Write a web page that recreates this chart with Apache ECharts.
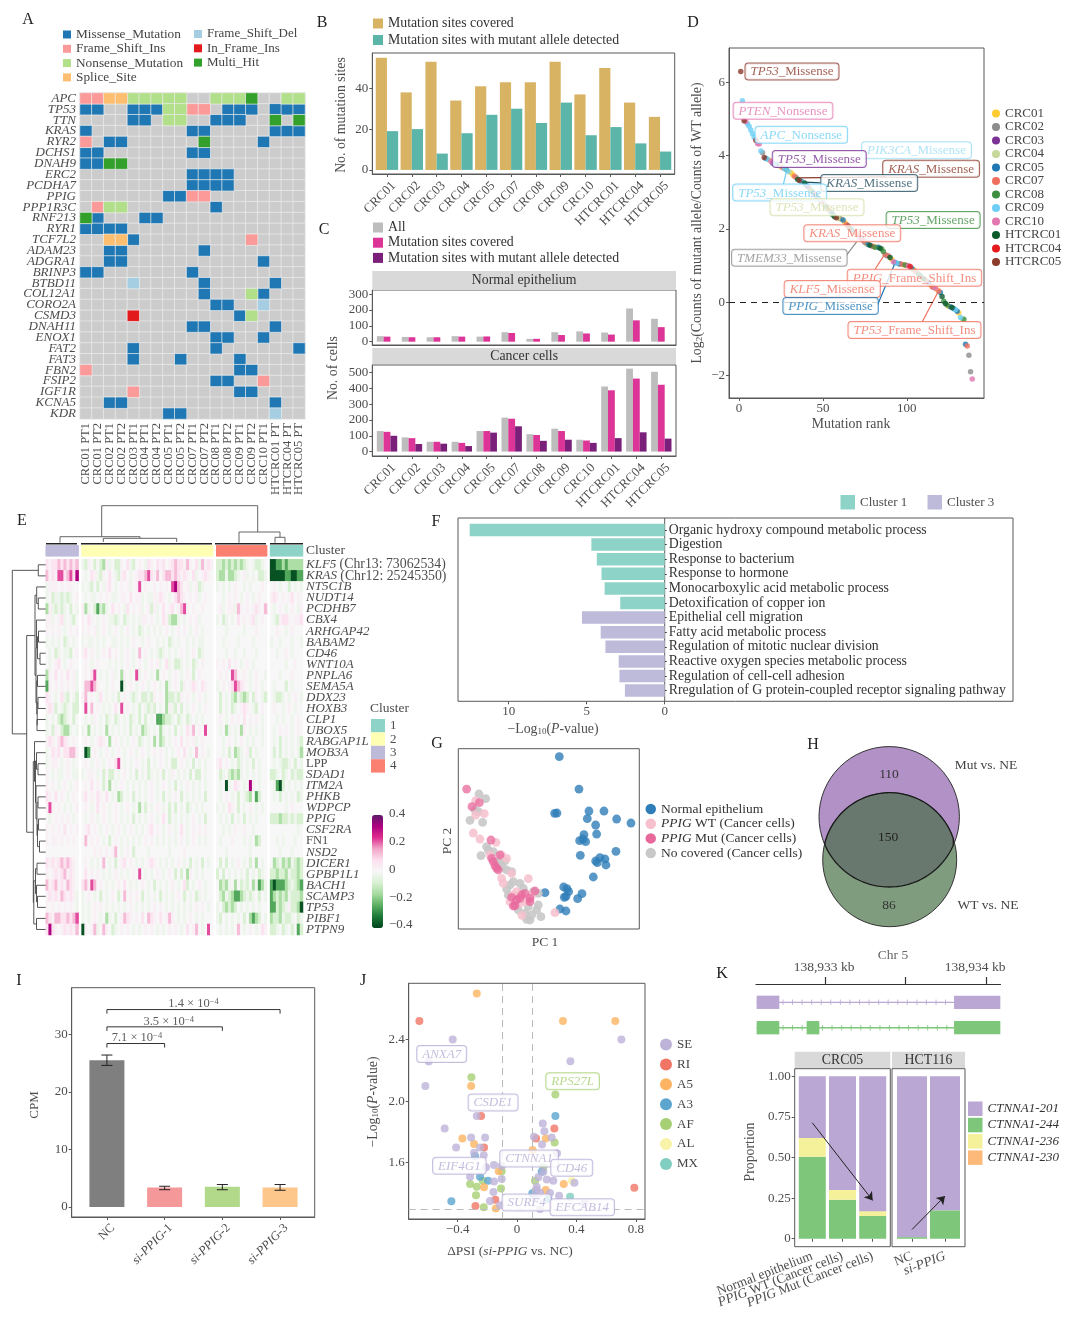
<!DOCTYPE html>
<html><head><meta charset="utf-8">
<style>html,body{margin:0;padding:0;background:#fff}#c{width:1080px;height:1328px}</style>
<script src="https://cdn.jsdelivr.net/npm/echarts@6/dist/echarts.min.js"></script>
</head><body><div id="c"></div>
<script>
// ---------- Panel A ----------
const genesA=['APC','TP53','TTN','KRAS','RYR2','DCHS1','DNAH9','ERC2','PCDHA7','PPIG','PPP1R3C','RNF213','RYR1','TCF7L2','ADAM23','ADGRA1','BRINP3','BTBD11','COL12A1','CORO2A','CSMD3','DNAH11','ENOX1','FAT2','FAT3','FBN2','FSIP2','IGF1R','KCNA5','KDR'];
const samplesA=['CRC01 PT1','CRC01 PT2','CRC02 PT1','CRC02 PT2','CRC03 PT1','CRC04 PT1','CRC04 PT2','CRC05 PT1','CRC05 PT2','CRC07 PT1','CRC07 PT2','CRC08 PT1','CRC08 PT2','CRC09 PT1','CRC09 PT2','CRC10 PT1','HTCRC01 PT','HTCRC04 PT','HTCRC05 PT'];
const mutRows=['FFSSNNNNN..NNNH..NN','MM..MMMNNFF.MMM.MMM','....MM.NN..MMM..H.H','M........MM.....MMM','F.MM......H....M...','MM.......MM........','MMHH...............','.........MMMM......','.........MMMM......','.......MMFF........','.FNN.......M.......','HM...MM............','MMMM...............','..SSM.........F....','..MM......M........','..MM...........M...','MM.......M.........','....D.....M.....M..','..........M...NM...','...........MM..D...','....I........MN....','.........MM.....M..','...........MM..M...','....M......M......M','....M...M....M.....','F............MM....','...........MM..F...','....F........MM....','..MM............M..','.......MM.......D..'];
const mutTypes=[['M','Missense_Mutation','#1F78B4'],['F','Frame_Shift_Ins','#FB9A99'],['N','Nonsense_Mutation','#B2DF8A'],['S','Splice_Site','#FDBF6F'],['D','Frame_Shift_Del','#A6CEE3'],['I','In_Frame_Ins','#E31A1C'],['H','Multi_Hit','#33A02C']];
// ---------- Panels B, C ----------
const patients=['CRC01','CRC02','CRC03','CRC04','CRC05','CRC07','CRC08','CRC09','CRC10','HTCRC01','HTCRC04','HTCRC05'];
const sitesCovered=[55,38,53,34,41,43,43,53,37,50,33,26];
const sitesDetected=[19,20,8,18,27,30,23,33,17,21,13,9];
const normalAll=[35,30,28,35,32,60,18,60,65,58,210,145];
const normalCovered=[32,28,28,32,33,55,18,42,52,45,135,92];
const normalDetected=[0,0,0,0,0,0,0,0,0,0,0,0];
const cancerAll=[130,90,62,62,130,215,110,145,75,412,525,505];
const cancerCovered=[125,85,62,55,130,208,105,130,70,388,462,423];
const cancerDetected=[100,48,50,35,120,160,68,75,55,85,122,82];
// ---------- Panel D: [rank, log2 ratio, sample index] ----------
const sampleColors=['#FFCC33','#8C8C8C','#7B3294','#C7D99A','#1F78B4','#F0705F','#3E8E41','#6ECFF6','#E377B0','#0B5A2B','#E41A1C','#8B3A2B'];
const rankPoints=[[1,6.3,11],[2,5.5,7],[3,4.95,11],[4,4.93,8],[5,4.87,7],[6,4.8,7],[7,4.7,7],[8,4.6,7],[9,4.5,7],[10,4.42,11],[11,4.33,8],[12,4.32,8],[13,4.13,7],[14,4.08,1],[15,3.95,11],[16,3.92,4],[17,3.9,7],[18,3.88,0],[19,3.85,8],[20,3.8,2],[21,3.78,7],[22,3.76,4],[23,3.74,1],[24,3.72,3],[25,3.7,0],[26,3.67,5],[27,3.65,7],[28,3.63,6],[29,3.58,7],[30,3.55,3],[31,3.53,0],[32,3.48,0],[33,3.44,5],[34,3.4,1],[35,3.35,9],[36,3.32,11],[37,3.3,4],[38,3.27,7],[39,3.25,9],[40,3.2,4],[41,3.15,2],[42,3.1,0],[43,3.05,6],[44,3,1],[45,2.95,5],[46,2.9,4],[47,2.85,0],[48,2.8,7],[49,2.75,8],[50,2.7,3],[51,2.65,1],[52,2.6,6],[53,2.55,5],[54,2.5,0],[55,2.45,4],[56,2.38,9],[57,2.33,9],[58,2.3,11],[59,2.29,3],[60,2.28,1],[61,2.26,0],[62,2.24,4],[63,2.18,0],[64,2.12,5],[65,2.08,11],[66,2.03,6],[67,1.98,4],[68,1.94,0],[69,1.9,1],[70,1.86,5],[71,1.82,3],[72,1.77,8],[73,1.72,4],[74,1.68,5],[75,1.63,1],[76,1.6,0],[77,1.57,4],[78,1.55,9],[79,1.53,1],[80,1.52,5],[81,1.5,6],[82,1.5,3],[83,1.5,4],[84,1.47,9],[85,1.45,6],[86,1.38,6],[87,1.3,5],[88,1.27,4],[89,1.26,5],[90,1.22,9],[91,1.17,0],[92,1.1,8],[93,1.08,4],[94,1.06,7],[95,1.05,1],[96,1.04,4],[97,1.03,5],[98,1.02,0],[99,1.01,6],[100,1,5],[101,.99,8],[102,.97,10],[103,.92,4],[104,.88,0],[105,.84,5],[106,.8,1],[107,.76,6],[108,.72,4],[109,.68,0],[110,.64,9],[111,.6,5],[112,.56,1],[113,.52,4],[114,.47,0],[115,.42,5],[116,.4,1],[117,.38,8],[118,.34,0],[119,.3,5],[120,.26,4],[121,.15,9],[122,.02,6],[123,-.04,9],[124,-.08,6],[125,-.12,0],[126,-.13,4],[127,-.15,9],[128,-.18,4],[129,-.2,7],[130,-.25,4],[131,-.3,0],[132,-.42,7],[133,-.46,3],[134,-.47,6],[135,-1.15,4],[136,-1.2,5],[137,-1.45,1],[138,-1.9,1],[139,-2.1,8]];
// ---------- Panel E ----------
const genesE=['KLF5 (Chr13: 73062534)','KRAS (Chr12: 25245350)','NT5C1B','NUDT14','PCDHB7','CBX4','ARHGAP42','BABAM2','CD46','WNT10A','PNPLA6','SEMA5A','DDX23','HOXB3','CLP1','UBOX5','RABGAP1L','MOB3A','LPP','SDAD1','ITM2A','PHKB','WDPCP','PPIG','CSF2RA','FN1','NSD2','DICER1','GPBP1L1','BACH1','SCAMP3','TP53','PIBF1','PTPN9'];
const splicingLevels={A:-.38,B:-.25,C:-.15,D:-.08,e:-.025,'.':0,f:.025,G:.07,H:.13,I:.22,J:.32};
const splicingRows=[
"GfGGHGHGHGH|eDf.D.DCfe.DDf.GeD.f.eGf.GfG.fGHGGfHf.GeHfGfe|DDCDCDCDCDe.eDDe.|AABBCBCCCCC",
"HfGfIIGHIGJ|.e.GfeDf.G.eDfG.e.fGGHIGfH.GHHGHGfGf.Ge.fGf|DCCeCCDe.fe.e.DDe|AAAAABBAABB",
"efff.f.ff..|e.eD.D.efG.e.f.fe.fI.f..f.f.f.IJHG.fe.fDe.|e.e.e.f..e.e...f.|.f.e..D.e.e",
"e.DeeDeDe.f|.e.ee.f.f.ee.ff.G.ffe.eeffGf.e.GHGf.f.fe.f.|..e.f.f.e.f.e.f..|fGf.f.fG.f.",
"CfeDeDe.D.e|fCe.DBDCe.G.f.eG.f.fe.fDfe.G.fG.fHIf.f..f|.fe.ffeHf.f.fGf.H|.e.f.e.f.ef",
"ffe.fGe.eD.|f.Gf.e.f.eeDe.De.e.eff.f.e.GfDCCe.e.f.fe.|e.De.e.G.f.fGe.f.|.eDfGGf.ffG",
"f.f.f.e.f.f|f.f.fe.f.e.f.e.f.e.De.e.e.e.f.e.f.f.e.f.e|...e.....e...f...|..f..e.f...",
"e.e.e.De.e.|e.ee.e.e..ee.e.e.f..e.f..e.e.De.e..e.e.ee|..e....e....e....|e..e...e..e",
".e.De.eeD.f|fG.f.e.f.G.f.e.f.e.H.f.e.eDe.e.e.f.e.f.De|...e..e..e...e...|..e..f.e...",
".e.fG.e.f..|.f.e.f...e.e.e.f.e.f.e.f.fe.Ge.DDe.e.De.f|f.f.G.f.e.f.e....|.....e..f..",
"Cf.G.f.G.fe|.f.GI.e.e.fe.Cf.e.Ie.f.e.C.f.e.f.e.f.D.f.|.f.f.IHf.f.e.f..e|...e...f...",
"Bf.f.f.f.fe|.HHIHf..e.f..Ae.f.e.f.e.f.e.Ce.f.Df.fGf.Gf|e.f.fGIHGf.e.f.e.|.e...D.e...",
"Gf.e.GeD.eD|fH.f.eG.e.e.D.f.eDe.DDeDf.f.CDDeDf.f.e.f.e|.D.e.DCeDCD.Df.eD|.eDDe.e.f.e",
"fGfD.eDe.DD|.I.H.f.e.e.G.I.f.e.D.eDeD.e.CfeD.D.e.f.e.f|.D.e.De.fGf.eD.f.|.f..e.f.e..",
"e.e.DCDe.D.|.e.ef.e.De.De.e.De.D.D.e.BBCDDe.De.De.e.e.|.f.e.f.f.G.f.f.e.|..e.e..e.f.",
"e.Df.DCCe.e|e.C.e.e.C.e.e.e.D.e.CDe.e.Ce.e.D.e.GfH.f.I|.e.Ce.e.Cf.e.e.e.|.e.f.f.e.f.",
"fGf.GHGf.f.|.f.e.fGf.C.f.e.e.f.De.e.C.CD.e.f.G.f.fe.f.|..e.f.e.f.e.e..e.|.e.D.e.e.eD",
"e.GfG.GGHHf|.AB.f.e.f.e.f.e.f.e.f.e.f.f.e.e.f.G.e.H.f.e|..e.D.CDe.fD.e...|.D.D.e.e.eC",
"e.ff.e.f.e.|.f.e.f.e.f.GI.e.e.f.e.D.e.f.e.DD.f.e.D.e.e.|fG.f.e.De.e.D.e.|.e.eDDe.D.e",
"f.e.ee.f.ee|e.ff.e.D.DD.e.f.e.D.e.De.e.D.ef.e.e.D.DD.e|.De.DCDCe.e.e.e.|DDe.De.DeDD",
"f.f.e.f.e.f|.f.G.f.D.C.e.f.e.e.e.e.f.e.f.e.D.e.f.e.e.e.|.e.Ae.Gf.e.Jf.e.|.eBAD.e.e.e",
"Gf.G.f.e.f.|fG.f.Gf.G.e.CD.e.D.e.e.f.e.D.e.f.D.e.e.e.D.|.e.f.e.D.eDC.BD.|.e.D.e.e.De",
"fIf.f.e.e.f|.f.e.G.f.e.f.e.f.e.C.D.e.f.e.D.D.e.De.e.e.|e.e.Gf.D.e.f.e.e|.....e.f...",
".e.f.f.f.e.|.e.f.e.f.e.f.e.e.D.e.e.f.e.G.D.e.e.e.f.e.D.|.e.e.D.e.D.e.e..|DDDCDDeDeDD",
"f.f.f.G.f.f|.fG.f.e.f.e.f.e.f.e.e.fG.f.e.f.e.G.e.f.f.f.|..e.e.f..f..e...|.........e.",
"f.ff.f.f.f.|.H.f.f.e.D.f.e.e.e.e.f.f.e.e.e.e.f.e.f.e.e.|.e...f...e.e.CD.|..e.e...e..",
"...........|....f.f.f.fH.e.f.D....e......e....f........|...e.......e.....|...e...e...",
"GfGfGHGHGf.|.f.e.e.H.e.D.fG.f.e.e.fGf.e.e.e.f.e.D.e.D.e|.D.D.e.f.e.D.C.e|.CDeCDCeDCD",
"f.fGfGHfGf.|.G.f.f.e.e.f.e.e.f.I.e.e.f.e.f.D.D.Cf.e.e.|D.D.e.e.e.D.e.De|DDCDDCeDDCD",
"HfGHfGfHGf.|GHfIH.f.e.e.f.G.e.e.f.e.D.e.e.f.e.GD.e.f.e.|.CDCe.C.DeD.CeBCe|BABBBCDeDCB",
"fGfGfHGfGfe|e.f.e.D.e.f.D.H.f.f.D.e.e.D.e.e.f.D.e.De.e.|.DCeDCBBCDeDe.D.e|BCDCDCeDDDC",
"f.f.f.f.f.e|e.e.f.f.e.e.e.e.f.e.e.e.f.f.e.e.e.e.e.f.f.e|e.DCDCD.e.e.e.e.|BBDCDefDDCA",
"HGfHHGGHGHI|e.e.f.e.Ce.D.fHGf.f.G.HGf.G.fHf.e.e.f.e.e.|eD.e.e.e.D.CBCD.e|CDDCeDDe.De",
"GJGf.fGfGfH|Af.fHe.Hf.De.f.f.e.e.f.f.e.e.f.f.e.G.fH.e.I|.e.e.e.H.e.f.e.Gf|DDe.De.D.BD.e"];
const clusterOrder=[{name:'3',size:11,color:'#BEBADA'},{name:'2',size:44,color:'#FFFFB3'},{name:'4',size:17,color:'#FB8072'},{name:'1',size:11,color:'#8DD3C7'}];
// ---------- Panel F ----------
const goTerms=['Organic hydroxy compound metabolic process','Digestion','Response to bacterium','Response to hormone','Monocarboxylic acid metabolic process','Detoxification of copper ion','Epithelial cell migration','Fatty acid metabolic process','Regulation of mitotic nuclear division','Reactive oxygen species metabolic process','Regulation of cell-cell adhesion','Rregulation of G protein-coupled receptor signaling pathway'];
const goCluster1=[12.5,4.7,4.35,4.05,3.85,2.85,null,null,null,null,null,null];
const goCluster3=[null,null,null,null,null,null,5.3,4.1,3.8,2.95,2.9,2.55];
// ---------- Panel G: [PC1, PC2] ----------
const pcaNormal=[[303,517],[362,420],[289,347],[296,348],[392,354],[437,354],[387,331],[475,330],[518,318],[412,312],[415,285],[377,283],[364,265],[382,262],[374,270],[473,233],[366,221],[425,214],[440,210],[412,204],[417,199],[443,192],[405,156],[316,126],[326,121],[331,112],[260,109],[371,106],[323,98],[318,95],[358,91],[305,60],[323,54]];
const pcaNoCover=[[62,405],[82,391],[35,326],[73,320],[50,357],[60,352],[85,247],[68,220],[105,232],[140,204],[130,187],[145,177],[160,172],[155,132],[145,120],[165,142],[185,137],[195,122],[225,112],[210,67],[240,72],[235,57],[248,37],[200,47],[215,27],[205,29],[180,57],[150,102],[240,107],[220,42],[90,237],[120,202],[130,212]];
const pcaWT=[[45,288],[65,270],[113,260],[52,385],[78,346],[52,342],[130,222],[95,222],[210,151],[130,152],[135,137],[290,49],[191,41],[160,167],[145,212],[155,82],[205,82],[175,112],[220,102],[185,77],[165,102]];
const pcaMut=[[25,420],[41,367],[63,379],[98,267],[105,202],[115,182],[120,177],[160,95],[185,92],[215,82],[230,114],[165,69],[170,70],[190,102],[200,107],[215,92],[175,87],[100,212],[110,190],[125,222]];
// ---------- Panel H ----------
const vennCounts={mutOnly:110,both:150,wtOnly:86};
// ---------- Panel I ----------
const cpmGroups=['NC','si-PPIG-1','si-PPIG-2','si-PPIG-3'];
const cpmMean=[25.5,3.4,3.5,3.4];
const cpmLow=[24.6,3,3,2.9];
const cpmHigh=[26.4,3.6,3.9,3.9];
const cpmColors=['#7F7F7F','#F4989A','#B2D88A','#FDC68A'];
// ---------- Panel J: [dPSI, -log10 P] ----------
const asSE=[[-.433,2.4],[.702,2.4],[-.594,2.257],[.359,2.259],[-.617,2.098],[-.271,1.903],[.173,1.854],[-.487,1.823],[.184,1.804],[.114,1.769],[-.309,1.763],[-.215,1.763],[.233,1.763],[.168,1.719],[-.41,1.698],[-.249,1.698],[-.289,1.665],[-.224,1.648],[.269,1.661],[-.209,1.57],[-.155,1.585],[-.103,1.578],[.177,1.541],[.143,1.505],[.2,1.49],[.244,1.483],[-.103,1.494],[-.155,1.477],[-.316,1.509],[.386,1.47],[.132,1.444],[.132,1.422],[.155,1.405],[-.159,1.409],[.222,1.403],[.283,1.385],[-.182,1.351],[-.114,1.323],[.453,1.336],[.155,1.299],[.121,1.379]];
const asRI=[[-.657,2.521],[-.242,1.903],[.251,1.823],[.128,1.758],[-.222,1.698],[.789,1.437],[-.146,1.359],[-.28,1.318]];
const asA5=[[-.271,2.699],[.309,2.521],[.661,2.521],[-.309,2.098],[-.368,1.758],[-.289,1.721],[.193,1.758],[.105,1.682],[-.123,1.544],[.314,1.461],[-.222,1.44],[.193,1.422],[-.143,1.303]];
const asA3=[[.258,1.903],[-.442,1.349],[-.283,1.643],[-.249,1.509],[-.195,1.483],[.166,1.541],[.103,1.401],[.211,1.362]];
const asAF=[[-.307,2.155],[.258,2.044],[.253,1.732],[-.103,1.544],[.177,1.57],[.121,1.483],[-.316,1.461],[-.231,1.483],[-.271,1.444],[-.108,1.433],[-.276,1.388],[-.224,1.31]];
const asAL=[[.368,1.483]];
const asMX=[[.357,1.379]];
// ---------- Panel K ----------
const facetCRC=['Normal epithelium','PPIG WT (Cancer cells)','PPIG Mut (Cancer cells)'];
const facetHCT=['NC','si-PPIG'];
const isoCRC={i201:[.38,.70,.83],i244:[.505,.24,.14],i236:[.115,.06,.03],i230:[0,0,0]};
const isoHCT={i201:[.99,.825],i244:[.01,.175],i236:[0,0],i230:[0,0]};

// ========== layout ==========
const FONT='"Liberation Serif","DejaVu Serif",serif';
const TXT='#4D4D4D', FR='#595959';
const grids=[],xAxes=[],yAxes=[],series=[],legends=[],gfx=[];
const R=(size,style,color,extra)=>Object.assign({fontSize:size,fontStyle:style||'normal',fontFamily:FONT,color:color||TXT,fill:color||TXT},extra||{});
function addGrid(l,t,r,b,x,y,frame){const i=grids.length;
  grids.push({left:l,top:t,width:r-l,height:b-t,show:!!frame,borderColor:FR,borderWidth:1,backgroundColor:'transparent',containLabel:false});
  xAxes.push(Object.assign({gridIndex:i},x));yAxes.push(Object.assign({gridIndex:i},y));return i;}
function vAxis(min,max,ticks,fmt,extra){
  return Object.assign({type:'value',min,max,splitLine:{show:false},axisLine:{show:true,onZero:false,lineStyle:{color:FR}},
    axisTick:{show:true,length:3,customValues:ticks,lineStyle:{color:FR}},
    axisLabel:Object.assign({show:true,customValues:ticks,color:TXT,fontSize:13,fontFamily:FONT,margin:4,hideOverlap:false},fmt?{formatter:fmt}:{})},extra||{});
}
const hidden=(min,max,inv)=>({type:'value',min,max,inverse:!!inv,show:false,splitLine:{show:false}});
function txt(x,y,s,o){o=o||{};gfx.push({type:'text',x,y,rotation:o.rot||0,silent:true,z:o.z||60,style:{text:s,fill:o.color||TXT,fontFamily:FONT,fontSize:o.size||13,fontStyle:o.style||'normal',align:o.align||'center',verticalAlign:'middle',rich:o.rich}});}
function rect(l,t,r,b,fill,stroke,z){gfx.push({type:'rect',silent:true,z:z==null?1:z,shape:{x:l,y:t,width:r-l,height:b-t},style:{fill:fill||'none',stroke:stroke||'none',lineWidth:1}});}
function strip(l,t,r,b,s,size){rect(l,t,r,b,'#D9D9D9');txt((l+r)/2,(t+b)/2,s,{color:'#333',size:size||13.8});}
function legend(left,top,names,colors,o){o=o||{};
  legends.push({left,top,orient:'vertical',padding:0,itemGap:o.gap==null?4:o.gap,itemWidth:o.w||10,itemHeight:o.h||10,selectedMode:false,
    formatter:o.fmt,data:names.map((n,i)=>({name:n,icon:o.icon||'rect',itemStyle:{color:colors[i],borderWidth:0,opacity:1}})),
    textStyle:{color:o.color||TXT,fontFamily:FONT,fontSize:o.size||13.5,lineHeight:o.lh,rich:o.rich}});}
function lines(g,polys,color,width,extra){series.push(Object.assign({type:'lines',coordinateSystem:'cartesian2d',xAxisIndex:g,yAxisIndex:g,polyline:true,silent:true,z:6,
  data:polys.map(c=>({coords:c})),lineStyle:{color,width:width||1,opacity:1}},extra||{}));}
function tags(g,list,size){series.push({type:'scatter',xAxisIndex:g,yAxisIndex:g,symbolSize:1,silent:true,z:30,itemStyle:{color:'rgba(0,0,0,0)'},
  data:list.map(t=>({value:[t.x,t.y],label:{show:true,position:'inside',formatter:'{i|'+t.gene+'}{n|'+(t.rest||'')+'}',
    backgroundColor:'#fff',borderColor:t.color,borderWidth:1,borderRadius:3,padding:[2,5,1,5],
    rich:{i:R(size,'italic',t.color),n:R(size,'normal',t.color)}}}))});}
function bars(g,name,ys,color,w){series.push({type:'bar',name,xAxisIndex:g,yAxisIndex:g,barWidth:w,barGap:0,itemStyle:{color},data:ys.map((y,i)=>[i,y])});}

// panel letters
[['A',28,20],['B',322,23],['C',324,230],['D',693,23],['E',22,521],['F',436,522],['G',437,744],['H',813,745],['I',19,981],['J',363,981],['K',722,974]]
 .forEach(p=>txt(p[1],p[2],p[0],{size:16,color:'#222'}));

// ---- A ----
{const g=addGrid(80,93,305,419,
  {type:'category',data:samplesA,axisLine:{show:false},axisTick:{show:false},axisLabel:{interval:0,rotate:90,color:TXT,fontFamily:FONT,fontSize:12.5,margin:4},splitLine:{show:false}},
  {type:'category',inverse:true,data:genesA,axisLine:{show:false},axisTick:{show:false},axisLabel:{interval:0,color:TXT,fontFamily:FONT,fontSize:13,fontStyle:'italic',margin:4},splitLine:{show:false}});
 const all=[];genesA.forEach((_,r)=>samplesA.forEach((_,c)=>all.push([c,r,1])));
 const cell={borderColor:'#EDEDED',borderWidth:.7};
 series.push({type:'heatmap',name:'none',xAxisIndex:g,yAxisIndex:g,silent:true,itemStyle:Object.assign({color:'#CCCCCC'},cell),data:all});
 mutTypes.forEach(t=>{const d=[];mutRows.forEach((row,r)=>row.split('').forEach((ch,c)=>{if(ch===t[0])d.push([c,r,1]);}));
  series.push({type:'heatmap',name:t[1],xAxisIndex:g,yAxisIndex:g,silent:true,z:3,itemStyle:Object.assign({color:t[2]},cell),data:d});});
 legend(63,27.5,['Missense_Mutation','Frame_Shift_Ins','Nonsense_Mutation','Splice_Site'],['#1F78B4','#FB9A99','#B2DF8A','#FDBF6F'],{w:8,h:8,gap:.3,size:13.3,lh:14,color:'#444'});
 legend(194,27,['Frame_Shift_Del','In_Frame_Ins','Multi_Hit'],['#A6CEE3','#E31A1C','#33A02C'],{w:8,h:8,gap:.3,size:13,lh:14,color:'#444'});
}
// ---- B ----
const idx=patients.map((_,i)=>i);
const catLab=i=>patients[i];
const rotLab=()=>({customValues:idx,formatter:catLab,rotate:45,verticalAlign:'top',padding:[3,0,0,0],color:TXT,fontFamily:FONT,fontSize:13,margin:3,hideOverlap:false});
{const g=addGrid(372.3,53,674.7,174,vAxis(-.59,11.59,idx,catLab,{axisLabel:rotLab()}),vAxis(-2,57.3,[0,20,40]),true);
 bars(g,'Mutation sites covered',sitesCovered,'#D9B364',11.2);
 bars(g,'Mutation sites with mutant allele detected',sitesDetected,'#5BB5A9',11.2);
 legend(373,16.5,['Mutation sites covered','Mutation sites with mutant allele detected'],['#D9B364','#5BB5A9'],{gap:2.5,size:13.8,lh:14,color:'#333'});
 txt(341,115,'No. of mutation sites',{rot:Math.PI/2,size:13.8});
}
// ---- C ----
{strip(372.3,271,676,290,'Normal epithelium');
 const g1=addGrid(372.3,290,676,345,vAxis(-.59,11.59,idx,catLab,{axisLabel:{show:false},axisTick:{show:false}}),vAxis(-21,327,[0,100,200,300]),true);
 bars(g1,'All',normalAll,'#BDBDBD',6.8);
 bars(g1,'Mutation sites covered',normalCovered,'#DD3497',6.8);
 bars(g1,'Mutation sites with mutant allele detected',normalDetected,'#7A1F7A',6.8);
 strip(372.3,348,676,364,'Cancer cells');
 const g2=addGrid(372.3,365,676,456,vAxis(-.59,11.59,idx,catLab,{axisLabel:rotLab()}),vAxis(-28,548,[0,100,200,300,400,500]),true);
 bars(g2,'All',cancerAll,'#BDBDBD',6.8);
 bars(g2,'Mutation sites covered',cancerCovered,'#DD3497',6.8);
 bars(g2,'Mutation sites with mutant allele detected',cancerDetected,'#7A1F7A',6.8);
 legend(373,220.5,['All','Mutation sites covered','Mutation sites with mutant allele detected'],['#BDBDBD','#DD3497','#7A1F7A'],{gap:1.2,size:13.8,lh:14,color:'#333'});
 txt(333,368,'No. of cells',{rot:Math.PI/2,size:13.8});
}
// ---- D ----
{const g=addGrid(729,48,984,398,vAxis(-6,146,[0,50,100]),vAxis(-2.62,6.94,[-2,0,2,4,6],v=>String(v).replace('-','−')),true);
 const px=(a,b)=>[(a-739)/1.68,(302-b)/36.67];
 const zc=(zx,zy)=>px(680+zx/3,zy/3);
 const connect=[[[320,510],[310,553],'#6ECFF6'],[[355,533],[620,530],'#8B3A2B'],[[360,545],[421,548],'#244E60'],[[500,765],[530,725],'#8C8C8C'],[[585,808],[615,762],'#F0705F'],[[593,915],[645,790],'#1F78B4'],[[727,966],[775,875],'#F0705F']];
 connect.forEach(c=>lines(g,[[zc(c[0][0],c[0][1]),zc(c[1][0],c[1][1])]],c[2],1.2,{z:3}));
 patients.forEach((p,s)=>{series.push({type:'scatter',name:p,xAxisIndex:g,yAxisIndex:g,symbolSize:5.5,silent:true,z:5,itemStyle:{color:sampleColors[s]},data:rankPoints.filter(a=>a[2]===s).map(a=>[a[0],a[1]])});});
 series.push({type:'line',xAxisIndex:g,yAxisIndex:g,silent:true,showSymbol:false,data:[],z:4,markLine:{silent:true,symbol:'none',label:{show:false},lineStyle:{color:'#222',type:[6,5],width:1},data:[{yAxis:0}]}});
 const T=(zx,zy,gene,rest,color)=>{const p=zc(zx,zy);return {x:p[0],y:p[1],gene,rest,color};};
 tags(g,[T(336,213,'TP53','_Missense','#8B3A2B'),T(309,331,'PTEN','_Nonsense','#E377B0'),T(364,403,'APC','_Nonsense','#6ECFF6'),T(710,450,'PIK3CA','_Missense','#9ADDF5'),T(418,476,'TP53','_Missense','#7B3294'),T(754,505,'KRAS','_Missense','#8B3A2B'),T(568,548,'KRAS','_Missense','#244E60'),T(299,577,'TP53','_Missense','#6ECFF6'),T(411,621,'TP53','_Missense','#D2DEA8'),T(760,659,'TP53','_Missense','#3E8E41'),T(517,699,'KRAS','_Missense','#F0705F'),T(328,773,'TMEM33','_Missense','#8C8C8C'),T(704,833,'PPIG','_Frame_Shift_Ins','#F0705F'),T(457,867,'KLF5','_Missense','#F0705F'),T(452,918,'PPIG','_Missense','#1F78B4'),T(704,990,'TP53','_Frame_Shift_Ins','#F0705F')],13);
 legend(992,107,patients,sampleColors,{icon:'circle',w:8,h:8,gap:.5,size:13,lh:11.5,color:'#444'});
 txt(697,223,'Log{sub|2}(Counts of mutant allele/Counts of WT allele)',{rot:Math.PI/2,size:13.8,rich:{sub:R(9,'normal',TXT,{verticalAlign:'bottom',padding:[4,0,0,0]})}});
 txt(851,424,'Mutation rank',{size:13.8});
}
// ---- E ----
{const cols=clusterOrder.reduce((a,c)=>a+c.size,0)+clusterOrder.length-1;
 const colNames=[];for(let i=0;i<cols;i++)colNames.push(String(i));
 const eFmt=v=>{const m=v.match(/^(\S+) (\(.*\))$/);if(m)return '{i|'+m[1]+'} {n|'+m[2]+'}';return (v==='LPP'||v==='FN1')?'{m|'+v+'}':'{i|'+v+'}';};
 const g=addGrid(45.7,559.3,303,935,
  {type:'category',data:colNames,axisLine:{show:false},axisTick:{show:false},axisLabel:{show:false},splitLine:{show:false}},
  {type:'category',inverse:true,position:'right',data:genesE,axisLine:{show:false},axisTick:{show:false},splitLine:{show:false},
   axisLabel:{interval:0,margin:3,fontSize:13,fontFamily:FONT,color:TXT,formatter:eFmt,rich:{i:R(13,'italic',TXT),n:R(13.8,'normal',TXT),m:R(12.5,'normal',TXT)}}});
 const cells=[];
 splicingRows.forEach((row,r)=>{const parts=row.split('|');let off=0;
  clusterOrder.forEach((cl,k)=>{const s=parts[k]||'';for(let c=0;c<cl.size;c++){const ch=s[c]||'.';cells.push([off+c,r,splicingLevels[ch]]);}off+=cl.size+1;});});
 const eIndex=series.length;
 series.push({type:'heatmap',name:'splicing',xAxisIndex:g,yAxisIndex:g,silent:true,data:cells});
 const ga=addGrid(45.7,545.3,303,556.3,{type:'category',data:colNames,show:false},{type:'category',data:['Cluster'],position:'right',axisLine:{show:false},axisTick:{show:false},
   axisLabel:{show:true,margin:3,fontSize:13.5,fontFamily:FONT,color:TXT}});
 let off=0;clusterOrder.forEach(cl=>{const d=[];for(let c=0;c<cl.size;c++)d.push([off+c,0,1]);off+=cl.size+1;
  series.push({type:'heatmap',name:cl.name,xAxisIndex:ga,yAxisIndex:ga,silent:true,itemStyle:{color:cl.color},data:d});});
 legend(371,719,['1','2','3','4'],['#8DD3C7','#FFFFB3','#BEBADA','#FB8072'],{w:14,h:13.4,gap:0,size:13,lh:13});
 txt(370,708,'Cluster',{align:'left',size:13.5});
 [['0.4',814],['0.2',842],['0',870],['−0.2',898],['−0.4',925]].forEach(p=>txt(389,p[1],p[0],{align:'left',size:13}));
 // dendrograms
 const gl=addGrid(0,559.3,45.7,935,hidden(0,45.7),hidden(0,34,true));
 const L=45.7;
 const leftTree=[[12.3,1,15.8,38.3,26.7],[38.3,.5,1.5,L,L],[26.7,6.9,24.7,35,33.3],[35,3.25,10.5,36.7,36],[36.7,2.5,4,L,38.3],[38.3,3.5,4.5,L,L],[36,8,13,36.5,36.8],[36.5,5.5,8,L,37.5],[37.5,7,9,38.5,40],[38.5,6.5,7.5,L,L],[40,8.5,9.5,L,L],[36.8,11,14,37.5,37.2],[37.5,10.5,11.5,L,L],[37.2,13,15,38,37],[38,12.5,13.5,L,L],[37,14.5,15.5,L,L],
  [33.3,18.3,31.05,34.5,33.8],[34.5,16.5,20.1,L,35.5],[35.5,18.25,22,36.5,36],[36.5,17.5,19,L,38],[38,18.5,19.5,L,L],[36,20.5,23.5,L,37],[37,22,25,38,37.5],[38,21.5,22.5,L,L],[37.5,24,26,38.5,39.5],[38.5,23.5,24.5,L,L],[39.5,25.5,26.5,L,L],
  [33.8,29.1,33,35.5,36.5],[35.5,28,30.25,37,36.5],[37,27.5,28.5,L,L],[36.5,29.5,31,L,37.5],[37.5,30.5,31.5,L,L],[36.5,32.5,33.5,L,L]];
 lines(gl,leftTree.map(b=>[[b[3],b[1]],[b[0],b[1]],[b[0],b[2]],[b[4],b[2]]]),'#444',.9);
 const gt=addGrid(45.7,503,303,545,hidden(45.7,303),hidden(503,545,true));
 const topTree=[[505.7,101.7,257.7,536.7,532],[536.7,60,140,542.7,538.3],[538.3,103.3,176.7,542,542],[532,239,280,542.7,537.3],[537.3,275,285,542.7,542.7]];
 lines(gt,topTree.map(b=>[[b[1],b[3]],[b[1],b[0]],[b[2],b[0]],[b[2],b[4]]]),'#555',.9);
 lines(gt,[[[46,543.8],[77,543.8]],[[81,543.8],[212,543.8]],[[215,543.8],[266,543.8]],[[270,543.8],[303,543.8]]],'#222',1.4);
 window.eVisual={type:'continuous',seriesIndex:eIndex,min:-.4,max:.4,left:357,top:800,itemWidth:11,itemHeight:113,calculable:false,realtime:false,hoverLink:false,text:null,dimension:2,
  inRange:{color:['#00441B','#1B7837','#5AAE61','#A6DBA0','#D9F0D3','#F7F7F7','#FDE0EF','#F1A7C9','#DE2D8F','#AE017E','#5E1A6B']}};
}
// ---- F ----
{rect(458,518,1013,701.3,null,FR,2);
 gfx.push({type:'line',silent:true,z:2,shape:{x1:664.7,y1:518,x2:664.7,y2:701.3},style:{stroke:FR,lineWidth:1}});
 const g=addGrid(458,522.7,1013,697.9,
  vAxis(-22.33,13.25,[0,5,10],null,{inverse:true,offset:3.4,axisLine:{show:false,onZero:false}}),
  {type:'category',inverse:true,data:goTerms,show:false});
 const barOpt={barWidth:12.5,barGap:'-100%'};
 series.push(Object.assign({type:'bar',name:'Cluster 1',xAxisIndex:g,yAxisIndex:g,itemStyle:{color:'#8DD3C7'},data:goCluster1},barOpt));
 series.push(Object.assign({type:'bar',name:'Cluster 3',xAxisIndex:g,yAxisIndex:g,itemStyle:{color:'#BEBADA'},data:goCluster3},barOpt));
 addGrid(664.7,522.7,1013,697.9,hidden(0,1),
  {type:'category',inverse:true,data:goTerms,position:'left',axisLine:{show:false,onZero:false},splitLine:{show:false},
   axisTick:{show:true,length:2,inside:true,alignWithLabel:true,lineStyle:{color:'#333'}},
   axisLabel:{interval:0,inside:true,color:'#333',fontFamily:FONT,fontSize:13.8,margin:4}});
 legend(840.5,495,['Cluster 1'],['#8DD3C7'],{w:14.5,h:14.5,size:13});
 legend(927.5,495,['Cluster 3'],['#BEBADA'],{w:14.5,h:14.5,size:13});
 txt(553,729,'−Log{sub|10}({i|P}-value)',{size:13.8,rich:{i:R(13.8,'italic',TXT),sub:R(9,'normal',TXT,{verticalAlign:'bottom',padding:[4,0,0,0]})}});
}
// ---- G ----
{const g=addGrid(458.3,748.7,639.3,929,hidden(0,543),hidden(0,541),true);
 const sc=(name,data,color,z,op)=>series.push({type:'scatter',name,xAxisIndex:g,yAxisIndex:g,silent:true,z,symbolSize:8.8,itemStyle:{color,opacity:op},data});
 sc('Normal epithelium',pcaNormal,'#2E7DB8',3,.8);
 sc('No covered (Cancer cells)',pcaNoCover,'#C8C8C8',4,.9);
 sc('PPIG WT (Cancer cells)',pcaWT,'#F6C0CC',5,.85);
 sc('PPIG Mut (Cancer cells)',pcaMut,'#E8689C',6,.75);
 legend(645.5,802,['Normal epithelium','PPIG WT (Cancer cells)','PPIG Mut (Cancer cells)','No covered (Cancer cells)'],['#2E7DB8','#F6C0CC','#E8689C','#C8C8C8'],
  {icon:'circle',w:10.5,h:10.5,gap:.7,size:13.5,lh:14,color:'#333',
   fmt:n=>n.indexOf('PPIG')===0?'{i|PPIG}'+n.slice(4):n,rich:{i:R(13.5,'italic','#333')}});
 txt(447,841,'PC 2',{rot:Math.PI/2,size:13.5});
 txt(545,942,'PC 1',{size:13.5});
}
// ---- H ----
{const a={cx:889.2,cy:816.8,r:70.2},b={cx:889.7,cy:859.7,r:67};
 const ci=(c,fill)=>gfx.push({type:'circle',silent:true,z:3,shape:{cx:c.cx,cy:c.cy,r:c.r},style:{fill,stroke:'#333',lineWidth:1}});
 ci(a,'#B191C6');ci(b,'#809C7E');
 const x1=825,x2=953.3,up=[],down=[];
 for(let i=0;i<=60;i++){const x=x1+(x2-x1)*i/60;
  up.push([x,b.cy-Math.sqrt(Math.max(0,b.r*b.r-(x-b.cx)*(x-b.cx)))]);
  down.push([x,a.cy+Math.sqrt(Math.max(0,a.r*a.r-(x-a.cx)*(x-a.cx)))]);}
 gfx.push({type:'polygon',silent:true,z:4,shape:{points:up.concat(down.reverse())},style:{fill:'#68786E',stroke:'#1A1A1A',lineWidth:1.3}});
 txt(889,774,String(vennCounts.mutOnly),{size:13.5,color:'#333'});
 txt(888,837,String(vennCounts.both),{size:13.5,color:'#222'});
 txt(889,905,String(vennCounts.wtOnly),{size:13.5,color:'#333'});
 txt(986,765,'Mut vs. NE',{size:13.5,color:'#444'});
 txt(988,905,'WT vs. NE',{size:13.5,color:'#444'});
}
// ---- I ----
{const ii=[0,1,2,3];
 const fmtI=i=>{const s=cpmGroups[i];return s.indexOf('si-')===0?'{i|si-PPIG}'+s.slice(7):s;};
 const g=addGrid(71.7,987.7,314.7,1217,
  vAxis(-.61,3.6,ii,fmtI,{axisLabel:{customValues:ii,formatter:fmtI,rotate:45,verticalAlign:'top',padding:[2,0,0,0],margin:3,color:TXT,fontFamily:FONT,fontSize:12.5,hideOverlap:false,rich:{i:R(12.5,'italic',TXT)}}}),
  vAxis(-1.74,38.1,[0,10,20,30]),true);
 series.push({type:'bar',name:'CPM',xAxisIndex:g,yAxisIndex:g,barWidth:35,data:ii.map(i=>({value:[i,cpmMean[i]],itemStyle:{color:cpmColors[i]}}))});
 series.push({type:'custom',xAxisIndex:g,yAxisIndex:g,silent:true,z:5,encode:{x:0,y:[1,2]},data:ii.map(i=>[i,cpmLow[i],cpmHigh[i]]),
  renderItem:(p,api)=>{const lo=api.coord([api.value(0),api.value(1)]),hi=api.coord([api.value(0),api.value(2)]);const w=5.5;const st={stroke:'#222',lineWidth:1,fill:null};
   return {type:'group',children:[{type:'line',shape:{x1:lo[0],y1:lo[1],x2:hi[0],y2:hi[1]},style:st},{type:'line',shape:{x1:lo[0]-w,y1:lo[1],x2:lo[0]+w,y2:lo[1]},style:st},{type:'line',shape:{x1:hi[0]-w,y1:hi[1],x2:hi[0]+w,y2:hi[1]},style:st}]};}});
 const brk=[[1,28.4,27.7],[2,31.3,30.6],[3,34.3,33.6]];
 lines(g,brk.map(b=>[[0,b[2]],[0,b[1]],[b[0],b[1]],[b[0],b[2]]]),'#333',1);
 const sup={t:R(12.5,'normal','#333'),s:R(8.5,'normal','#333',{verticalAlign:'top',padding:[0,0,4,0]})};
 series.push({type:'scatter',xAxisIndex:g,yAxisIndex:g,symbolSize:1,silent:true,itemStyle:{color:'rgba(0,0,0,0)'},z:8,
  data:[[.52,29.4,'7.1'],[1.07,32.2,'3.5'],[1.5,35.3,'1.4']].map(d=>({value:[d[0],d[1]],label:{show:true,position:'inside',formatter:'{t|'+d[2]+' × 10}{s|−4}',rich:sup}}))});
 txt(35,1105,'CPM',{rot:Math.PI/2,size:13});
}
// ---- J ----
{const g=addGrid(408.7,983.3,645,1219,vAxis(-.729,.861,[-.4,0,.4,.8],v=>v===0?'0':String(v).replace('-','−')),vAxis(1.234,2.766,[1.6,2,2.4],v=>v.toFixed(1)),true);
 const types=[['SE',asSE,'#BDB3D8'],['RI',asRI,'#F07565'],['A5',asA5,'#FDB462'],['A3',asA3,'#5BA5CF'],['AF',asAF,'#A6D073'],['AL',asAL,'#F8F3A8'],['MX',asMX,'#80CDC1']];
 series.push({type:'line',xAxisIndex:g,yAxisIndex:g,silent:true,showSymbol:false,data:[],z:2,markLine:{silent:true,symbol:'none',label:{show:false},lineStyle:{color:'#BBB',type:[7,5],width:1},data:[{xAxis:-.1},{xAxis:.1},{yAxis:1.301}]}});
 types.slice().reverse().forEach((t,i)=>series.push({type:'scatter',name:t[0],xAxisIndex:g,yAxisIndex:g,silent:true,z:3+i/10,symbolSize:8,itemStyle:{color:t[2]},data:t[1]}));
 const purple='#B7ADD6';
 tags(g,[{x:-.507,y:2.306,gene:'ANXA7',color:purple},{x:.374,y:2.129,gene:'RPS27L',color:'#A6CF73'},{x:-.161,y:1.992,gene:'CSDE1',color:purple},{x:.081,y:1.628,gene:'CTNNA1',color:purple},{x:-.388,y:1.58,gene:'EIF4G1',color:purple},{x:.368,y:1.567,gene:'CD46',color:purple},{x:.065,y:1.342,gene:'SURF4',color:purple},{x:.439,y:1.31,gene:'EFCAB14',color:purple}],13);
 legend(660,1038,types.map(t=>t[0]),types.map(t=>t[2]),{icon:'circle',w:12,h:12,gap:6.9,size:13,lh:12,color:'#444'});
 txt(510,1251,'ΔPSI ({i|si-PPIG} vs. NC)',{size:13.5,rich:{i:R(13.5,'italic',TXT)}});
 txt(373,1102,'−Log{sub|10}({i|P}-value)',{rot:Math.PI/2,size:13.8,rich:{i:R(13.8,'italic',TXT),sub:R(9,'normal',TXT,{verticalAlign:'bottom',padding:[4,0,0,0]})}});
}
// ---- K ----
{const k0=138933;
 const g=addGrid(756,984,1000.5,1036,
  {type:'value',position:'top',min:138932.569,max:138934.09,splitLine:{show:false},axisLine:{show:true,onZero:false,lineStyle:{color:'#333',width:1.2}},axisLabel:{show:false},
   axisTick:{show:true,length:7,customValues:[k0,k0+.5,k0+1],lineStyle:{color:'#333',width:1.2}}},
  hidden(0,52,true));
 const gene=(segs,color)=>series.push({type:'custom',xAxisIndex:g,yAxisIndex:g,silent:true,encode:{x:[0,1],y:2},data:segs,
  renderItem:(p,api)=>{const a=api.coord([api.value(0),api.value(2)]),b=api.coord([api.value(1),api.value(2)]);const h=api.value(3);return {type:'rect',shape:{x:a[0],y:a[1]-h/2,width:b[0]-a[0],height:h},style:{fill:color}};}});
 gene([[k0-.427,k0+.805,18.3,1.3],[k0-.427,k0-.286,18.3,13.3],[k0+.801,k0+1.089,18.3,13.3]],'#BBA7D3');
 gene([[k0-.427,k0+.805,43.7,1.6],[k0-.427,k0-.286,43.7,13.3],[k0-.116,k0-.037,43.7,13.3],[k0+.801,k0+1.089,43.7,13.3]],'#7DC67A');
 const t201=[-.263,-.204,-.144,-.085,-.025,.034,.094,.153,.213,.272,.332,.391,.451,.51,.57,.629,.689,.748];
 const t244=[-.263,-.204,-.144,-.017,.042,.102,.161,.221,.28,.34,.399,.459,.518,.578,.637,.697,.756];
 const ticks=(a,y,c)=>series.push({type:'scatter',xAxisIndex:g,yAxisIndex:g,silent:true,symbol:'rect',symbolSize:[1,5.5],itemStyle:{color:c},data:a.map(v=>[k0+v,y])});
 ticks(t201,18.3,'#BBA7D3');ticks(t244,43.7,'#7DC67A');
 txt(824,967.3,'138,933 kb',{size:13.5});txt(975,967.3,'138,934 kb',{size:13.5});txt(893,955,'Chr 5',{size:13.5,color:'#666'});
 strip(794.7,1051.7,890.3,1068.3,'CRC05');strip(892,1051.7,965,1068.3,'HCT116');
 rect(794.7,1068.7,890.3,1246.7,null,FR,2);rect(892,1068.7,965,1246.7,null,FR,2);
 const rotFmt=s=>{if(s.indexOf('PPIG')===0)return '{i|PPIG}'+s.slice(4);if(s.indexOf('si-')===0)return '{i|'+s+'}';return s;};
 const xa=arr=>({type:'category',data:arr,axisLine:{show:false},splitLine:{show:false},axisTick:{show:true,alignWithLabel:true,length:3,lineStyle:{color:FR}},
   axisLabel:{interval:0,formatter:rotFmt,rotate:21,margin:9,color:TXT,fontFamily:FONT,fontSize:13.4,hideOverlap:false,rich:{i:R(13.4,'italic',TXT)}}});
 const g1=addGrid(797.2,1068.7,887.8,1246.7,xa(facetCRC),vAxis(-.049,1.047,[0,.25,.5,.75,1],v=>v===0?'0':v.toFixed(2),{offset:2.5,axisLine:{show:false,onZero:false}}));
 const g2=addGrid(895.5,1068.7,961.5,1246.7,xa(facetHCT),hidden(-.049,1.047));
 const iso=[['CTNNA1-244','i244','#7DC67A'],['CTNNA1-236','i236','#F5F09A'],['CTNNA1-230','i230','#FDB97A'],['CTNNA1-201','i201','#BBA7D3']];
 iso.forEach(t=>{
  series.push({type:'bar',name:t[0],stack:'a',xAxisIndex:g1,yAxisIndex:g1,barWidth:27,itemStyle:{color:t[2]},data:isoCRC[t[1]]});
  series.push({type:'bar',name:t[0],stack:'b',xAxisIndex:g2,yAxisIndex:g2,barWidth:30,itemStyle:{color:t[2]},data:isoHCT[t[1]]});});
 const arrow={polyline:false,symbol:['none','arrow'],symbolSize:8,z:8};
 lines(g1,[[['Normal epithelium',.714],['PPIG Mut (Cancer cells)',.236]]],'#222',1,arrow);
 lines(g2,[[['NC',.057],['si-PPIG',.263]]],'#222',1,arrow);
 legend(968,1101.5,['CTNNA1-201','CTNNA1-244','CTNNA1-236','CTNNA1-230'],['#BBA7D3','#7DC67A','#F5F09A','#FDB97A'],{w:14.5,h:14.5,gap:1.8,size:13,color:'#333',
   fmt:n=>'{i|'+n+'}',rich:{i:R(13,'italic','#333')}});
 txt(750,1152,'Proportion',{rot:Math.PI/2,size:13.8});
}
const chart=echarts.init(document.getElementById('c'),null,{renderer:'canvas',width:1080,height:1328});
chart.setOption({animation:false,backgroundColor:'#fff',textStyle:{fontFamily:FONT},
 grid:grids,xAxis:xAxes,yAxis:yAxes,series,legend:legends,visualMap:[window.eVisual],graphic:{elements:gfx}});
</script></body></html>
